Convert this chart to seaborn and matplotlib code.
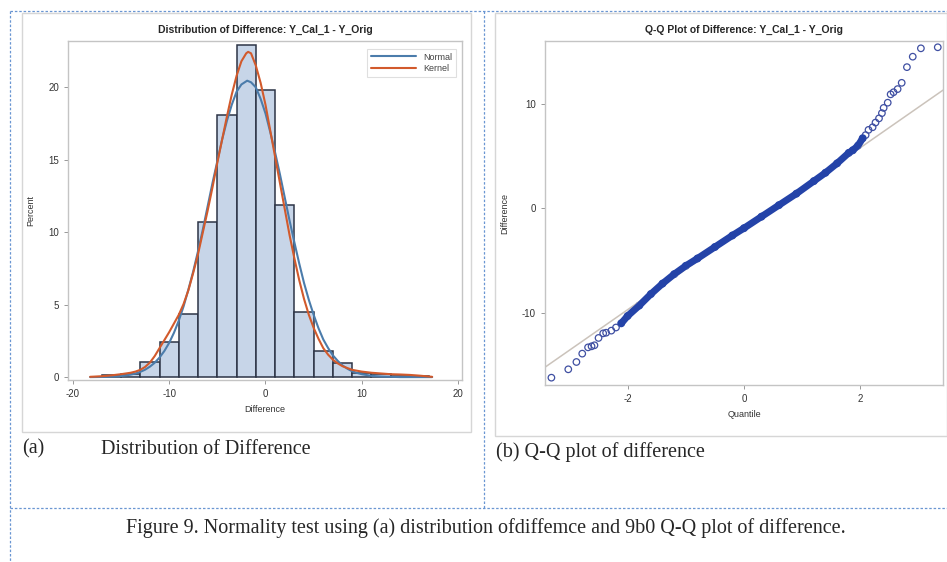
import numpy as np
import pandas as pd
import matplotlib.pyplot as plt
import seaborn as sns
from matplotlib.patches import Rectangle
from matplotlib.lines import Line2D

sns.set_style("white")
plt.rcParams["font.family"] = ["Liberation Sans", "DejaVu Sans"]
plt.rcParams["axes.unicode_minus"] = False

# ---- histogram of differences (percent per bin of width 2)
bin_edges = [-17, -15, -13, -11, -9, -7, -5, -3, -1, 1, 3, 5, 7, 9, 11, 13, 15, 17]
bin_pct = [0.15, 0.2, 1.05, 2.45, 4.35, 10.7, 18.1, 22.9, 19.8, 11.9, 4.5, 1.8, 1.0, 0.3, 0.2, 0.1, 0.1]

# fitted curves
normal_x = [-18.2, -17, -16, -15, -14, -13.5, -13, -12.5, -12, -11.5, -11, -10.5, -10, -9.5,
            -9, -8.5, -8, -7.5, -7, -6.5, -6, -5.5, -5, -4.5, -4, -3.5, -3, -2.5, -1.9,
            -1.5, -1, -0.5, 0, 0.5, 1, 1.5, 2, 2.5, 3, 3.5, 4, 4.5, 5, 5.5, 6, 6.5, 7,
            7.5, 8, 8.5, 9, 9.5, 10, 11, 12, 14, 17.3]
normal_y = [0.0, 0.01, 0.03, 0.07, 0.17, 0.25, 0.36, 0.51, 0.72, 0.99, 1.35, 1.8, 2.36, 3.06,
            3.9, 4.89, 6.05, 7.3, 8.7, 10.2, 11.8, 13.4, 14.9, 16.4, 17.7, 18.8, 19.7, 20.2,
            20.46, 20.35, 20.0, 19.2, 18.2, 16.9, 15.5, 14.0, 12.4, 10.8, 9.3, 7.85, 6.5,
            5.33, 4.3, 3.38, 2.6, 2.01, 1.5, 1.12, 0.8, 0.58, 0.4, 0.29, 0.2, 0.085, 0.04,
            0.0, 0.0]
kernel_x = [-18.2, -17, -16, -15, -14, -13.5, -13, -12.5, -12, -11.5, -11, -10.5, -10, -9.5,
            -9, -8.5, -8, -7.5, -7, -6.5, -6, -5.5, -5, -4.5, -4, -3.5, -3, -2.5, -2, -1.8,
            -1.5, -1, -0.5, 0, 0.5, 1, 1.5, 2, 2.5, 3, 3.5, 4, 4.5, 5, 5.5, 6, 6.5, 7, 7.5,
            8, 9, 10, 11, 12, 13, 14, 15, 16, 17.3]
kernel_y = [0.02, 0.06, 0.12, 0.2, 0.3, 0.38, 0.5, 0.7, 1.0, 1.45, 2.0, 2.55, 3.1, 3.7,
            4.3, 5.05, 6.0, 7.2, 8.5, 10.0, 11.5, 13.1, 14.8, 16.4, 18.0, 19.5, 20.8, 21.8,
            22.35, 22.45, 22.35, 21.5, 20.3, 18.8, 17.0, 15.2, 13.4, 11.6, 9.8, 8.2, 6.7,
            5.4, 4.3, 3.4, 2.65, 2.0, 1.55, 1.2, 0.95, 0.75, 0.5, 0.38, 0.3, 0.25, 0.2,
            0.18, 0.15, 0.1, 0.02]

# ---- Q-Q plot
qq_ref_x = [-3.42, 3.42]
qq_ref_y = [-15.2, 11.3]
# dense band of points
band_q = [-2.11, -2.0, -1.8, -1.6, -1.4, -1.2, -1.0, -0.8, -0.5, -0.2, 0.0, 0.3, 0.6,
          0.9, 1.2, 1.4, 1.6, 1.8, 1.87, 1.96, 2.04]
band_d = [-11.0, -10.3, -9.3, -8.2, -7.2, -6.3, -5.5, -4.8, -3.7, -2.6, -1.9, -0.8, 0.3,
          1.4, 2.6, 3.4, 4.3, 5.3, 5.55, 6.0, 6.7]
# separated tail points
tail_q = [-3.31, -3.02, -2.88, -2.78, -2.68, -2.62, -2.57, -2.50, -2.42, -2.37, -2.28, -2.20,
          2.09, 2.14, 2.21, 2.26, 2.32, 2.37, 2.40, 2.47, 2.52, 2.57, 2.64, 2.71, 2.80, 2.90,
          3.04, 3.33]
tail_d = [-16.2, -15.4, -14.7, -13.9, -13.3, -13.2, -13.1, -12.4, -11.96, -11.9, -11.7, -11.4,
          7.0, 7.5, 7.75, 8.2, 8.6, 9.1, 9.6, 10.1, 10.9, 11.1, 11.4, 12.0, 13.5, 14.5,
          15.3, 15.4]

W, H = 947, 562
fig = plt.figure(figsize=(W / 100, H / 100), dpi=100)


def box(x0, y0, x1, y1):
    # pixel coords (top-left origin) -> figure fraction
    return [x0 / W, 1 - y1 / H, (x1 - x0) / W, (y1 - y0) / H]


tick_kw = dict(labelsize=7, labelcolor="#333333", color="#888888", length=3, width=0.6)

# ---- left panel
ax1 = fig.add_axes(box(68, 41, 462, 380))
hist_df = pd.DataFrame({"mid": np.array(bin_edges[:-1]) + 1, "pct": bin_pct})
sns.histplot(data=hist_df, x="mid", weights="pct", bins=bin_edges, ax=ax1,
             color="#c7d5e8", edgecolor="#2c3446", linewidth=1.1, alpha=1)
sns.lineplot(x=normal_x, y=normal_y, ax=ax1, color="#4b7cab", linewidth=1.5,
             label="Normal", sort=False)
sns.lineplot(x=kernel_x, y=kernel_y, ax=ax1, color="#d25a2c", linewidth=1.5,
             label="Kernel", sort=False)
ax1.set_xlim(-20.5, 20.4)
ax1.set_ylim(-0.2, 23.2)
ax1.set_xticks([-20, -10, 0, 10, 20])
ax1.set_yticks([0, 5, 10, 15, 20])
ax1.tick_params(**tick_kw)
ax1.tick_params(axis="both", direction="out", bottom=True, left=True)
ax1.set_xlabel("Difference", fontsize=6.5, color="#333333", labelpad=4)
ax1.set_ylabel("Percent", fontsize=6.5, color="#333333", labelpad=9)
ax1.set_title("Distribution of Difference: Y_Cal_1 - Y_Orig", fontsize=7.5,
              fontweight="bold", pad=6)
for s in ax1.spines.values():
    s.set_color("#c4c4c4")
    s.set_linewidth(1)
leg = ax1.legend(loc="upper right", fontsize=6.5, frameon=True, fancybox=False,
                 handlelength=5, borderpad=0.4, labelspacing=0.3,
                 bbox_to_anchor=(0.995, 0.99))
leg.get_frame().set_edgecolor("#d8d8d8")
leg.get_frame().set_linewidth(0.8)
for t in leg.get_texts():
    t.set_color("#444444")

# ---- right panel
ax2 = fig.add_axes(box(545, 41, 943, 385))
sns.lineplot(x=qq_ref_x, y=qq_ref_y, ax=ax2, color="#cbc3bb", linewidth=1.1)
sns.lineplot(x=band_q, y=band_d, ax=ax2, color="#2443a8", linewidth=5, sort=False)
sns.scatterplot(x=band_q, y=band_d, ax=ax2, s=22, facecolor="none",
                edgecolor="#2443a8", linewidth=1.0)
sns.scatterplot(x=tail_q, y=tail_d, ax=ax2, s=22, facecolor="none",
                edgecolor="#3f4fa2", linewidth=0.9)
ax2.set_xlim(-3.42, 3.42)
ax2.set_ylim(-16.9, 16.0)
ax2.set_xticks([-2, 0, 2])
ax2.set_yticks([-10, 0, 10])
ax2.tick_params(**tick_kw)
ax2.tick_params(axis="both", direction="out", bottom=True, left=True)
ax2.set_xlabel("Quantile", fontsize=6.5, color="#333333", labelpad=4)
ax2.set_ylabel("Difference", fontsize=6.5, color="#333333", labelpad=9)
ax2.set_title("Q-Q Plot of Difference: Y_Cal_1 - Y_Orig", fontsize=7.5,
              fontweight="bold", pad=6)
for s in ax2.spines.values():
    s.set_color("#c4c4c4")
    s.set_linewidth(1)

# ---- graph frames and dashed document borders
for x0, y0, x1, y1 in [(22, 13, 471, 432), (495, 13, 947, 436)]:
    fig.add_artist(Rectangle((x0 / W, 1 - y1 / H), (x1 - x0) / W, (y1 - y0) / H,
                             transform=fig.transFigure, fill=False,
                             edgecolor="#d6d6d6", linewidth=1))

dash = dict(transform=fig.transFigure, color="#6a96d2", linewidth=0.9,
            linestyle=(0, (2, 1.5)))
for (xa, ya, xb, yb) in [(10, 11, 947, 11), (10, 508, 947, 508), (10, 11, 10, 562),
                         (484, 11, 484, 508)]:
    fig.add_artist(Line2D([xa / W, xb / W], [1 - ya / H, 1 - yb / H], **dash))

# ---- captions
serif = ["Liberation Serif", "DejaVu Serif"]
fig.text(22 / W, 1 - 449 / H, "(a)", family=serif, fontsize=14.5, va="center")
fig.text(101 / W, 1 - 449 / H, "Distribution of Difference", family=serif,
         fontsize=14.5, va="center")
fig.text(496 / W, 1 - 452 / H, "(b) Q-Q plot of difference", family=serif,
         fontsize=14.5, va="center")
fig.text(486 / W, 1 - 528 / H,
         "Figure 9. Normality test using (a) distribution ofdiffemce and 9b0 Q-Q plot of difference.",
         family=serif, fontsize=14.5, va="center", ha="center")

fig.savefig("out.png", dpi=100)
